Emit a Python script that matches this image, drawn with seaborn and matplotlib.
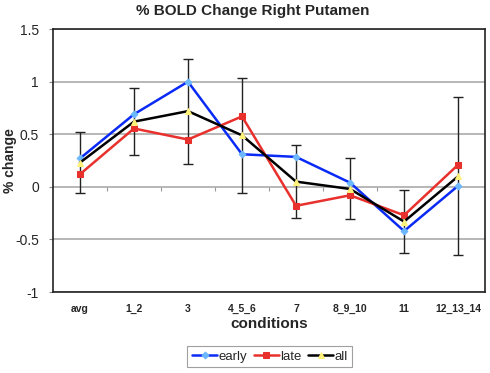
import matplotlib
matplotlib.use("Agg")
import matplotlib.pyplot as plt
import seaborn as sns
import pandas as pd
import numpy as np

# data
conditions = ["avg", "1_2", "3", "4_5_6", "7", "8_9_10", "11", "12_13_14"]
early = [0.27, 0.69, 1.00, 0.31, 0.285, 0.04, -0.42, 0.01]
late = [0.12, 0.555, 0.45, 0.67, -0.18, -0.08, -0.27, 0.21]
all_ = [0.23, 0.62, 0.72, 0.49, 0.05, -0.02, -0.33, 0.10]
all_err = [0.29, 0.32, 0.50, 0.545, 0.35, 0.29, 0.30, 0.75]

sns.set_style("white")
plt.rcParams["font.family"] = ["Liberation Sans", "DejaVu Sans"]

fig = plt.figure(figsize=(4.9, 3.73), dpi=100)
ax = fig.add_axes([0.108, 0.217, 0.882, 0.705])

idx = np.arange(len(conditions))
df = pd.DataFrame({"x": np.tile(idx, 3),
                   "value": early + late + all_,
                   "series": ["early"] * 8 + ["late"] * 8 + ["all"] * 8})

styles = {
    "early": dict(color="#0a2af5", marker="D", mfc="#6cb8ff", ms=3.5),
    "late": dict(color="#e8302c", marker="s", mfc="#e8302c", ms=4.5),
    "all": dict(color="black", marker="^", mfc="#fff27a", ms=4.5),
}

# error bars for "all"
ax.errorbar(idx, all_, yerr=all_err, fmt="none", ecolor="#222222",
            elinewidth=1.0, capsize=3.5, capthick=1.0, zorder=2)

for name in ["early", "late", "all"]:
    st = styles[name]
    sns.lineplot(data=df[df.series == name], x="x", y="value", ax=ax,
                 color=st["color"], lw=1.8, marker=st["marker"],
                 markerfacecolor=st["mfc"], markeredgecolor=st["mfc"],
                 markersize=st["ms"], label=name, zorder=3)

ax.set_xlim(-0.5, 7.5)
ax.set_ylim(-1, 1.5)
ax.set_yticks([-1, -0.5, 0, 0.5, 1, 1.5])
ax.set_yticklabels(["-1", "-0.5", "0", "0.5", "1", "1.5"], fontsize=10)
ax.yaxis.grid(True, color="#aaaaaa", lw=1.2)
ax.set_axisbelow(True)
ax.tick_params(axis="y", left=True, length=3, width=0.8, color="#888888", pad=7)
ax.set_xticks(idx)
ax.set_xticklabels(conditions, fontsize=7.5, fontweight="bold")
ax.tick_params(axis="x", bottom=False, pad=5)
for sp in ax.spines.values():
    sp.set_color("#222222")
    sp.set_linewidth(1.2)

# small boundary ticks on the zero line
sec = ax.secondary_xaxis(0.4)
sec.set_xticks(np.arange(0.5, 7.5, 1.0))
sec.tick_params(axis="x", length=3, width=0.8, color="#999999", labelbottom=False)
sec.spines["bottom"].set_visible(False)

ax.set_xlabel("conditions", fontsize=11, fontweight="bold", labelpad=2)
ax.set_ylabel("% change", fontsize=10, fontweight="bold")
ax.yaxis.set_label_coords(-0.083, 0.5)
fig.suptitle("% BOLD Change Right Putamen", x=0.516, y=0.99,
             fontsize=11, fontweight="bold")

leg = ax.legend(loc="upper center", bbox_to_anchor=(0.502, -0.18), ncol=3,
                frameon=True, fancybox=False, fontsize=9.5, handlelength=1.9,
                handletextpad=0.1, columnspacing=0.5, borderpad=0.35)
leg.get_frame().set_edgecolor("#888888")
leg.get_frame().set_linewidth(0.8)

fig.savefig("out.png", dpi=100)
